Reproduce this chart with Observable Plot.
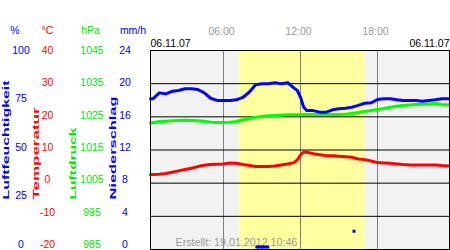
<!DOCTYPE html>
<html><head><meta charset="utf-8">
<script src="https://cdn.jsdelivr.net/npm/d3@7"></script>
<script src="https://cdn.jsdelivr.net/npm/@observablehq/plot@0.6"></script>
<style>
html,body{margin:0;padding:0;background:#fff;overflow:hidden}
#chart svg{display:block}
</style></head><body><div id="chart"></div>
<script>
// ---- data ----
const hours = [0.31, 0.5, 1, 1.5, 2, 2.5, 3, 3.5, 4, 4.5, 5, 5.5, 6, 6.5, 7, 7.5, 8, 8.5, 9, 9.5, 10, 10.5, 11, 11.5, 11.75, 12, 12.25, 12.5, 13, 13.5, 14, 14.5, 15, 15.5, 16, 16.5, 17, 17.5, 18, 18.5, 19, 19.5, 20, 20.5, 21, 21.5, 22, 22.5, 23, 23.5, 23.61];
const humidity = [75.7, 75.7, 78.7, 78.2, 79.5, 79.9, 80.8, 80.8, 80.4, 78.7, 76.0, 74.9, 74.9, 74.9, 75.2, 76.4, 79.0, 82.8, 83.3, 83.3, 83.8, 83.3, 83.8, 81.1, 79.9, 76.5, 71.5, 69.8, 69.8, 69.0, 69.0, 70.2, 70.7, 71.0, 71.5, 72.4, 73.5, 73.7, 75.4, 75.7, 75.7, 75.2, 74.9, 74.9, 74.9, 74.5, 74.9, 75.2, 75.7, 75.7, 75.7];
const pressure = [1023.2, 1023.2, 1023.6, 1023.7, 1023.8, 1023.9, 1024.0, 1023.9, 1023.8, 1023.7, 1023.4, 1023.3, 1023.3, 1023.4, 1023.6, 1024.1, 1024.4, 1024.9, 1025.1, 1025.3, 1025.4, 1025.5, 1025.6, 1025.6, 1025.6, 1025.6, 1025.7, 1025.7, 1025.7, 1025.7, 1025.7, 1025.7, 1025.7, 1025.8, 1026.0, 1026.3, 1026.6, 1026.9, 1027.2, 1027.5, 1027.9, 1028.2, 1028.4, 1028.6, 1028.7, 1028.8, 1028.9, 1029.0, 1028.7, 1028.6, 1028.6];
const temperature = [2.6, 2.6, 2.7, 2.9, 3.3, 3.7, 4.1, 4.5, 5.0, 5.4, 5.6, 5.7, 5.8, 6.1, 6.0, 5.6, 5.3, 5.0, 5.0, 5.0, 5.2, 5.5, 5.8, 6.2, 7.0, 8.5, 9.4, 9.3, 8.9, 8.6, 8.3, 8.3, 8.1, 8.0, 7.8, 7.3, 7.1, 6.7, 6.2, 6.1, 6.0, 5.8, 5.6, 5.5, 5.5, 5.5, 5.5, 5.5, 5.3, 5.2, 5.2];
const rainHours = [8.6, 9.0, 9.45, 16.17];
const rainMm = [0.3, 0.3, 0.3, 2.2];
const rainEvent = [1, 1, 1, 2];
const daylightStart = [7.25];
const daylightEnd = [17.07];
const timeTicks = [6, 12, 18];
const timeLabels = ["06:00", "12:00", "18:00"];
const dateLabels = ["06.11.07", "06.11.07"];
const humTicks = [0, 25, 50, 75, 100];
const tempTicks = [-20, -10, 0, 10, 20, 30, 40];
const presTicks = [985, 995, 1005, 1015, 1025, 1035, 1045];
const rainTicks = [0, 4, 8, 12, 16, 20, 24];
const units = ["%", "°C", "hPa", "mm/h"];
const titles = ["Luftfeuchtigkeit", "Temperatur", "Luftdruck", "Niederschlag"];
const created = "Erstellt: 19.01.2012 10:46";

// ---- scales: everything mapped into the common 0..100 y scale ----
const humDomain = [0, 100], tempDomain = [-20, 40], presDomain = [985, 1045], rainDomain = [0, 24];
const frac = (v, [a, b]) => (v - a) / (b - a);
const toY = (v, dom) => frac(v, dom) * 100;
const labelY = f => 2.5 + 97.5 * f; // tick labels sit on a slightly compressed ladder

// ---- layout / style ----
const L = {ml: 150, mt: 50};
const C = {blue: "#0000ff", blueText: "#0000e0", red: "#ff0000", green: "#00ff00", greenText: "#00e600"};
const axes = [
  {ticks: humTicks, dom: humDomain, color: C.blueText, cx: 20.5, ux: 14.5, tx: 8.3, len: 119},
  {ticks: tempTicks, dom: tempDomain, color: C.red, cx: 47, ux: 47, tx: 38.3, len: 92},
  {ticks: presTicks, dom: presDomain, color: C.greenText, cx: 91.5, ux: 90, tx: 75, len: 72},
  {ticks: rainTicks, dom: rainDomain, color: C.blueText, cx: 124.5, ux: 132.5, tx: 115.7, len: 103}
];

const series = hours.map((h, i) => ({h, hum: humidity[i], temp: temperature[i], pres: pressure[i]}));
const rain = rainHours.map((h, i) => ({h, mm: rainMm[i], ev: rainEvent[i]}));
const daylight = daylightStart.map((s, i) => ({s, e: daylightEnd[i]}));

const axisMarks = axes.flatMap((a, i) => [
  Plot.text(a.ticks, {y: d => labelY(frac(d, a.dom)), text: d => String(d), frameAnchor: "left", dx: a.cx - L.ml, textAnchor: "middle", fill: a.color}),
  Plot.text([units[i]], {frameAnchor: "top-left", dx: a.ux - L.ml, dy: 33.5 - L.mt, lineAnchor: "bottom", textAnchor: "middle", fill: a.color}),
  Plot.text([titles[i]], {frameAnchor: "bottom-left", dx: a.tx - L.ml, dy: -50, rotate: -90, textAnchor: "start", lineAnchor: "bottom", fontWeight: "bold", fontSize: 9.3, fill: a.color})
]);

const plot = Plot.plot({
  width: 450, height: 250,
  marginLeft: L.ml, marginTop: L.mt, marginRight: 1, marginBottom: 1,
  style: {fontFamily: "'Liberation Sans', Arial, sans-serif", fontSize: "10.5px", background: "#fff", overflow: "visible"},
  x: {domain: [hours[0], hours[hours.length - 1]], axis: null},
  y: {domain: [0, 100], axis: null},
  marks: [
    Plot.frame({fill: "#f2f2f2"}),
    Plot.rect(daylight, {x1: "s", x2: "e", fill: "#ffffa0"}),
    Plot.ruleX(timeTicks, {stroke: "#808080"}),
    Plot.ruleY(rainTicks.map(r => toY(r, rainDomain)), {stroke: "#000"}),
    Plot.text([created], {frameAnchor: "bottom-left", dx: 25, dy: -4, lineAnchor: "bottom", textAnchor: "start", fill: "#999", fontSize: 10.7}),
    Plot.line(series, {x: "h", y: d => toY(d.pres, presDomain), stroke: C.green, strokeWidth: 3}),
    Plot.line(series, {x: "h", y: d => toY(d.temp, tempDomain), stroke: C.red, strokeWidth: 3}),
    Plot.line(series, {x: "h", y: d => toY(d.hum, humDomain), stroke: C.blue, strokeWidth: 3}),
    Plot.line(rain, {x: "h", y: d => toY(d.mm, rainDomain), z: "ev", stroke: C.blue, strokeWidth: 3, strokeLinecap: "butt"}),
    Plot.dot(rain, {x: "h", y: d => toY(d.mm, rainDomain), symbol: "square", r: 1.7, fill: C.blue}),
    Plot.frame({stroke: "#000"}),
    Plot.axisX(timeTicks, {anchor: "top", tickSize: 0, tickPadding: 16, dx: -2, tickFormat: d => timeLabels[timeTicks.indexOf(d)], fill: "#999", label: null}),
    Plot.text([dateLabels[0]], {frameAnchor: "top-left", dy: -3.5, lineAnchor: "bottom", textAnchor: "start", fill: "#000"}),
    Plot.text([dateLabels[1]], {frameAnchor: "top-right", dy: -3.5, lineAnchor: "bottom", textAnchor: "end", fill: "#000"}),
    ...axisMarks
  ]
});

// stretch the vertical titles to the reference's wide lettering
d3.select(plot).selectAll("text").each(function () {
  const i = titles.indexOf(this.textContent);
  if (i >= 0) {
    this.setAttribute("textLength", axes[i].len);
    this.setAttribute("lengthAdjust", "spacingAndGlyphs");
  }
});

document.getElementById("chart").appendChild(plot);
</script></body></html>
